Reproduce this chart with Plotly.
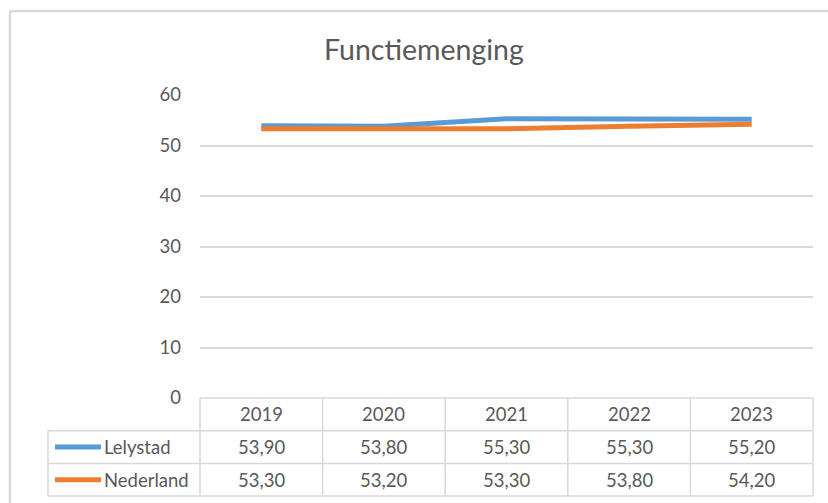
"""Functiemenging: Lelystad vs Nederland, line chart with an Excel-style data table."""

import plotly.graph_objects as go

W, H = 828, 503

years = ["2019", "2020", "2021", "2022", "2023"]
series_names = ["Lelystad", "Nederland"]
lelystad = [53.9, 53.8, 55.3, 55.3, 55.2]
nederland = [53.3, 53.2, 53.3, 53.8, 54.2]
y_ticks = [0, 10, 20, 30, 40, 50, 60]

colors = ["#5B9BD5", "#ED7D31"]
grid = "#D9D9D9"
text_col = "#595959"
font_family = "Lato, 'Open Sans', sans-serif"
FS = 18.5

# pixel geometry of the plot area / table
PX_LEFT, PX_RIGHT = 200, 813
PX_TOP, PX_ZERO = 95, 398
ROW_H = 32.7
TABLE_LEFT = 48


def px(x):
    return x / W


def py(y):
    return 1 - y / H


def label(text, x, y, xanchor="center", size=FS):
    return dict(
        text=text, xref="paper", yref="paper", x=px(x), y=py(y),
        xanchor=xanchor, yanchor="middle", showarrow=False,
        font=dict(size=size, color=text_col, family=font_family),
    )


fig = go.Figure()
for name, vals, col in zip(series_names, [lelystad, nederland], colors):
    fig.add_trace(go.Scatter(
        x=list(range(len(years))),
        y=vals,
        mode="lines",
        name=name,
        line=dict(color=col, width=5),
        showlegend=False,
    ))

shapes = []
annotations = [label("Functiemenging", 424, 49, size=28.5)]

# data table: horizontal lines
col_w = (PX_RIGHT - PX_LEFT) / len(years)
row_lines = [PX_ZERO + ROW_H * i for i in range(4)]
for i, yl in enumerate(row_lines):
    x0 = PX_LEFT if i == 0 else TABLE_LEFT
    shapes.append(dict(type="line", xref="paper", yref="paper",
                       x0=px(x0), x1=px(PX_RIGHT), y0=py(yl), y1=py(yl),
                       line=dict(color=grid, width=1.5)))
# vertical lines
for j in range(len(years) + 1):
    xl = PX_LEFT + col_w * j
    shapes.append(dict(type="line", xref="paper", yref="paper",
                       x0=px(xl), x1=px(xl), y0=py(PX_ZERO), y1=py(row_lines[-1]),
                       line=dict(color=grid, width=1.5)))
shapes.append(dict(type="line", xref="paper", yref="paper",
                   x0=px(TABLE_LEFT), x1=px(TABLE_LEFT),
                   y0=py(row_lines[1]), y1=py(row_lines[-1]),
                   line=dict(color=grid, width=1.5)))

# header row: years
for j, yr in enumerate(years):
    annotations.append(label(yr, PX_LEFT + col_w * (j + 0.5), PX_ZERO + ROW_H / 2))

# series rows
for r, (name, vals, col) in enumerate(zip(series_names, [lelystad, nederland], colors)):
    yc = PX_ZERO + ROW_H * (r + 1.5)
    shapes.append(dict(type="line", xref="paper", yref="paper",
                       x0=px(55), x1=px(101), y0=py(yc), y1=py(yc),
                       line=dict(color=col, width=5)))
    annotations.append(label(name, 102, yc, xanchor="left"))
    for j, v in enumerate(vals):
        annotations.append(label(f"{v:.2f}".replace(".", ","),
                                 PX_LEFT + col_w * (j + 0.5), yc))

# outer chart frame (only top and left edges fall inside the picture)
shapes.append(dict(type="line", xref="paper", yref="paper",
                   x0=px(10), x1=px(W), y0=py(11), y1=py(11),
                   line=dict(color=grid, width=2.5)))
shapes.append(dict(type="line", xref="paper", yref="paper",
                   x0=px(10), x1=px(10), y0=py(11), y1=py(H),
                   line=dict(color=grid, width=2.5)))

fig.update_layout(
    width=W, height=H,
    margin=dict(l=0, r=0, t=0, b=0),
    paper_bgcolor="white",
    plot_bgcolor="white",
    xaxis=dict(
        domain=[px(PX_LEFT), px(PX_RIGHT)],
        range=[-0.5, len(years) - 0.5],
        showgrid=False, zeroline=False, showticklabels=False,
        automargin=False, fixedrange=True,
    ),
    yaxis=dict(
        domain=[py(PX_ZERO), py(PX_TOP)],
        range=[0, 60],
        tickvals=y_ticks,
        showgrid=True, gridcolor=grid, gridwidth=1.5,
        zeroline=False, showline=False,
        ticklabelstandoff=18,
        tickfont=dict(size=FS, color=text_col, family=font_family),
        automargin=False, fixedrange=True,
    ),
    shapes=shapes,
    annotations=annotations,
)

fig.write_html("out.html", config={"displayModeBar": False},
               post_script="document.body.style.margin='0';")
